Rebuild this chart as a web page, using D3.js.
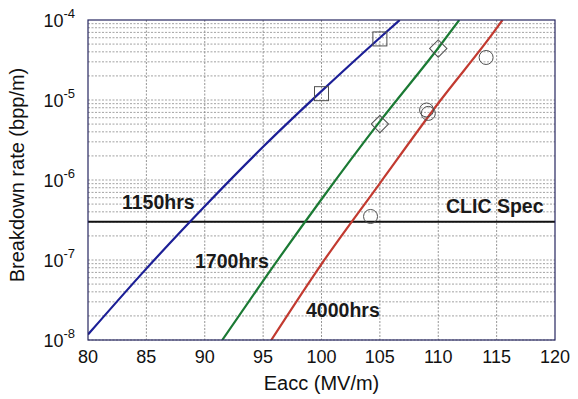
<!DOCTYPE html>
<html>
<head>
<meta charset="utf-8">
<script src="https://cdn.jsdelivr.net/npm/d3@7"></script>
<style>
  body { margin: 0; background: #fff; }
  text { font-family: Arial, "Liberation Sans", sans-serif; }
</style>
</head>
<body>
<div id="chart"></div>
<script>
// Values
const xTicks = [80, 85, 90, 95, 100, 105, 110, 115, 120];
const yExponents = [-4, -5, -6, -7, -8];

const curve1150E = [80, 85, 90, 95, 100, 105, 106.7];
const curve1150Rate = [1.17e-8, 7.8e-8, 4.7e-7, 2.6e-6, 1.29e-5, 6.0e-5, 1e-4];

const curve1700E = [91.5, 95, 100, 105, 110, 111.8];
const curve1700Rate = [1e-8, 5.5e-8, 5.75e-7, 5.4e-6, 4.47e-5, 1e-4];

const curve4000E = [95.7, 100, 105, 110, 115, 115.5];
const curve4000Rate = [1e-8, 8.9e-8, 9.1e-7, 9.1e-6, 7.9e-5, 1e-4];

const squareE = [100, 105];
const squareRate = [1.2e-5, 5.8e-5];
const diamondE = [105, 110];
const diamondRate = [5.0e-6, 4.4e-5];
const circleE = [114.1, 109.0, 109.15, 104.2];
const circleRate = [3.4e-5, 7.5e-6, 6.8e-6, 3.5e-7];

const clicSpec = 3.0e-7;

const labelText = ['1150hrs', '1700hrs', '4000hrs', 'CLIC Spec'];

const width = 578, height = 399;
const margin = { top: 20, right: 23, bottom: 59, left: 88 };
const plotW = width - margin.left - margin.right;
const plotH = height - margin.top - margin.bottom;

const x = d3.scaleLinear().domain([80, 120]).range([0, plotW]);
const y = d3.scaleLog().domain([1e-8, 1e-4]).range([plotH, 0]);

const svg = d3.select('#chart').append('svg')
  .attr('width', width)
  .attr('height', height);

const g = svg.append('g')
  .attr('transform', 'translate(' + margin.left + ',' + margin.top + ')');

g.append('rect')
  .attr('width', plotW).attr('height', plotH)
  .attr('fill', '#fff');

// horizontal log grid (decades + minor)
const gridVals = [];
for (let e = -8; e < -4; e++) {
  for (let m = 1; m <= 9; m++) gridVals.push(m * Math.pow(10, e));
}
g.append('g')
  .selectAll('line')
  .data(gridVals)
  .join('line')
  .attr('x1', 0).attr('x2', plotW)
  .attr('y1', d => y(d)).attr('y2', d => y(d))
  .attr('stroke', '#8c8c8c')
  .attr('stroke-width', 0.8)
  .attr('stroke-dasharray', '2,1.5');

// vertical grid
g.append('g')
  .selectAll('line')
  .data(xTicks.slice(1, -1))
  .join('line')
  .attr('x1', d => x(d)).attr('x2', d => x(d))
  .attr('y1', 0).attr('y2', plotH)
  .attr('stroke', '#7a7a7a')
  .attr('stroke-width', 0.8)
  .attr('stroke-dasharray', '2,1.5');

// CLIC spec line
g.append('line')
  .attr('x1', 0).attr('x2', plotW)
  .attr('y1', y(clicSpec)).attr('y2', y(clicSpec))
  .attr('stroke', '#111')
  .attr('stroke-width', 2);

// curves
g.append('clipPath').attr('id', 'clip')
  .append('rect').attr('width', plotW).attr('height', plotH);

const line = d3.line()
  .x(d => x(d[0]))
  .y(d => y(d[1]))
  .curve(d3.curveMonotoneX);

const curves = [
  { e: curve1150E, r: curve1150Rate, color: '#1c1f96' },
  { e: curve1700E, r: curve1700Rate, color: '#1b7a34' },
  { e: curve4000E, r: curve4000Rate, color: '#c23a30' },
];

g.append('g')
  .attr('clip-path', 'url(#clip)')
  .selectAll('path')
  .data(curves)
  .join('path')
  .attr('d', d => line(d.e.map((v, i) => [v, d.r[i]])))
  .attr('fill', 'none')
  .attr('stroke', d => d.color)
  .attr('stroke-width', 2.2);

// markers
const markerStroke = '#505050';
g.append('g')
  .selectAll('rect')
  .data(squareE.map((v, i) => [v, squareRate[i]]))
  .join('rect')
  .attr('x', d => x(d[0]) - 7).attr('y', d => y(d[1]) - 7)
  .attr('width', 14).attr('height', 14)
  .attr('fill', 'none').attr('stroke', markerStroke).attr('stroke-width', 1);

g.append('g')
  .selectAll('path')
  .data(diamondE.map((v, i) => [v, diamondRate[i]]))
  .join('path')
  .attr('d', d3.symbol(d3.symbolSquare, 150))
  .attr('transform', d => 'translate(' + x(d[0]) + ',' + y(d[1]) + ') rotate(45)')
  .attr('fill', 'none').attr('stroke', markerStroke).attr('stroke-width', 1);

g.append('g')
  .selectAll('circle')
  .data(circleE.map((v, i) => [v, circleRate[i]]))
  .join('circle')
  .attr('cx', d => x(d[0])).attr('cy', d => y(d[1]))
  .attr('r', 7)
  .attr('fill', 'none').attr('stroke', markerStroke).attr('stroke-width', 1);

// annotations (pixel placement)
const labelPos = [[122, 208.5], [195, 268], [306, 317], [446, 213]];
svg.append('g')
  .selectAll('text')
  .data(labelText)
  .join('text')
  .attr('x', (d, i) => labelPos[i][0])
  .attr('y', (d, i) => labelPos[i][1])
  .attr('font-size', 19.5)
  .attr('font-weight', 'bold')
  .attr('fill', '#1a1a1a')
  .text(d => d);

// frame
g.append('rect')
  .attr('width', plotW).attr('height', plotH)
  .attr('fill', 'none')
  .attr('stroke', '#262660')
  .attr('stroke-width', 1.2);

// x tick labels
g.append('g')
  .selectAll('text')
  .data(xTicks)
  .join('text')
  .attr('x', d => x(d))
  .attr('y', plotH + 23)
  .attr('text-anchor', 'middle')
  .attr('font-size', 18)
  .attr('fill', '#111')
  .text(d => d);

// y tick labels 10^n
const yLab = g.append('g')
  .selectAll('text')
  .data(yExponents)
  .join('text')
  .attr('x', -13)
  .attr('y', d => y(Math.pow(10, d)) + 6.5)
  .attr('text-anchor', 'end')
  .attr('font-size', 18)
  .attr('fill', '#111');
yLab.append('tspan').text('10');
yLab.append('tspan')
  .attr('dy', -9)
  .attr('font-size', 13)
  .text(d => String(d));

// axis titles
svg.append('text')
  .attr('x', margin.left + plotW / 2)
  .attr('y', 390)
  .attr('text-anchor', 'middle')
  .attr('font-size', 20)
  .attr('fill', '#111')
  .text('Eacc (MV/m)');

svg.append('text')
  .attr('transform', 'translate(24,175) rotate(-90)')
  .attr('text-anchor', 'middle')
  .attr('font-size', 20)
  .attr('fill', '#111')
  .text('Breakdown rate (bpp/m)');
</script>
</body>
</html>
